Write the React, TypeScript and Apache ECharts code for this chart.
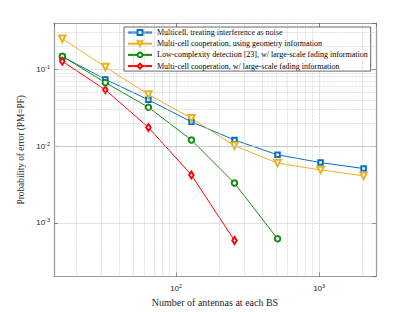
import React, { useEffect, useRef } from 'react';
import * as echarts from 'echarts';

const antennas = [16, 32, 64, 128, 256, 512, 1024, 2048];
const seriesNames = [
  'Multicell, treating interference as noise',
  'Multi-cell cooperation, using geometry information',
  'Low-complexity detection [23], w/ large-scale fading information',
  'Multi-cell cooperation, w/ large-scale fading information',
];
const multicellTIN = [0.146, 0.074, 0.04, 0.0207, 0.012, 0.0077, 0.0061, 0.0051];
const geometryInfo = [0.25, 0.107, 0.047, 0.023, 0.0101, 0.006, 0.0049, 0.0041];
const lowComplexity = [0.148, 0.067, 0.032, 0.012, 0.0033, 0.00062];
const largeScaleCoop = [0.127, 0.054, 0.0175, 0.0042, 0.00059];

const xMinorGrid = [20, 30, 40, 50, 60, 70, 80, 90, 200, 300, 400, 500, 600, 700, 800, 900, 2000];
const yMinorGrid = [
  0.0003, 0.0004, 0.0005, 0.0006, 0.0007, 0.0008, 0.0009,
  0.002, 0.003, 0.004, 0.005, 0.006, 0.007, 0.008, 0.009,
  0.02, 0.03, 0.04, 0.05, 0.06, 0.07, 0.08, 0.09,
  0.2, 0.3,
];

const colors = ['#0072BD', '#EDB120', '#138A13', '#FF0000'];

const serif = '"Liberation Serif", "Times New Roman", serif';
const sans = '"Liberation Sans", Arial, sans-serif';

const powFormatter = (v: number) => {
  const k = Math.log10(v);
  const r = Math.round(k);
  if (Math.abs(k - r) > 1e-6) return '';
  return `10{sup|${r}}`;
};

const labelRich = {
  sup: { fontSize: 5.5, fontFamily: sans, color: '#262626', verticalAlign: 'bottom' as const, padding: [0, 0, 5, 0] },
};

export default function App() {
  const ref = useRef<HTMLDivElement>(null);
  useEffect(() => {
    if (!ref.current) return;
    const chart = echarts.init(ref.current, undefined, { renderer: 'svg' });
    const frame = { show: true, lineStyle: { color: '#9a9a9a', width: 1.2 } };
    const tick = { show: true, inside: true, length: 4, lineStyle: { color: '#555', width: 0.6 } };
    const mk = (arr: number[]) => arr.map((y, i) => [antennas[i], y]);
    const symbols = ['emptyRect', 'emptyTriangle', 'emptyCircle', 'emptyDiamond'];
    const sizes: any[] = [4.5, 6.5, 5.5, [4.5, 7]];
    const rot = [0, 180, 0, 0];
    const datas = [multicellTIN, geometryInfo, lowComplexity, largeScaleCoop];
    const option: any = {
      animation: false,
      backgroundColor: '#fff',
      grid: { left: 54, top: 23, right: 39, bottom: 35 },
      legend: {
        data: seriesNames,
        orient: 'vertical',
        left: 124,
        top: 27,
        padding: [1.5, 3, 1, 3],
        itemWidth: 24,
        itemHeight: 6,
        itemGap: 3.2,
        backgroundColor: '#fff',
        borderColor: '#262626',
        borderWidth: 0.7,
        textStyle: { fontFamily: serif, fontSize: 8, color: '#000' },
      },
      xAxis: [
        {
          type: 'log', logBase: 10, min: 14, max: 2500, position: 'bottom',
          axisLine: frame, axisTick: tick,
          axisLabel: { formatter: powFormatter, margin: 6, color: '#262626', fontFamily: sans, fontSize: 8, rich: labelRich, showMinLabel: false, showMaxLabel: false },
          splitLine: { show: true, lineStyle: { color: '#e2e2e2', width: 1 } },
          name: 'Number of antennas at each BS', nameLocation: 'middle', nameGap: 17,
          nameTextStyle: { fontFamily: serif, fontSize: 10, color: '#262626' },
        },
        {
          type: 'log', logBase: 10, min: 14, max: 2500, position: 'top',
          axisLine: frame, axisTick: tick, axisLabel: { show: false }, splitLine: { show: false },
        },
      ],
      yAxis: [
        {
          type: 'log', logBase: 10, min: 0.0002, max: 0.4, position: 'left',
          axisLine: frame, axisTick: tick,
          axisLabel: { formatter: powFormatter, margin: 4, color: '#262626', fontFamily: sans, fontSize: 8, rich: labelRich, showMinLabel: false, showMaxLabel: false },
          splitLine: { show: true, lineStyle: { color: '#e2e2e2', width: 1 } },
          name: 'Probability of error (PM=PF)', nameLocation: 'middle', nameGap: 20,
          nameTextStyle: { fontFamily: serif, fontSize: 9.3, color: '#262626' },
        },
        {
          type: 'log', logBase: 10, min: 0.0002, max: 0.4, position: 'right',
          axisLine: frame, axisTick: tick, axisLabel: { show: false }, splitLine: { show: false },
        },
      ],
      series: [
        {
          name: '_grid', type: 'line', data: [], z: 1, silent: true,
          markLine: {
            silent: true, symbol: ['none', 'none'], label: { show: false },
            lineStyle: { color: '#c4c4c4', type: 'dotted', width: 0.7 },
            emphasis: { disabled: true },
            data: [
              ...xMinorGrid.map((v) => ({ xAxis: v })),
              ...yMinorGrid.map((v) => ({ yAxis: v })),
            ],
          },
        },
        ...datas.map((d, i) => ({
          name: seriesNames[i], type: 'line', data: mk(d),
          symbol: symbols[i], symbolSize: sizes[i], symbolRotate: rot[i],
          showAllSymbol: true,
          lineStyle: { color: colors[i], width: 1 },
          itemStyle: { color: colors[i], borderWidth: 0.9 },
          z: 3,
        })),
      ],
    };
    chart.setOption(option);
    return () => chart.dispose();
  }, []);
  return <div ref={ref} style={{ position: 'absolute', left: 0, top: 0, width: 415, height: 312 }} />;
}
